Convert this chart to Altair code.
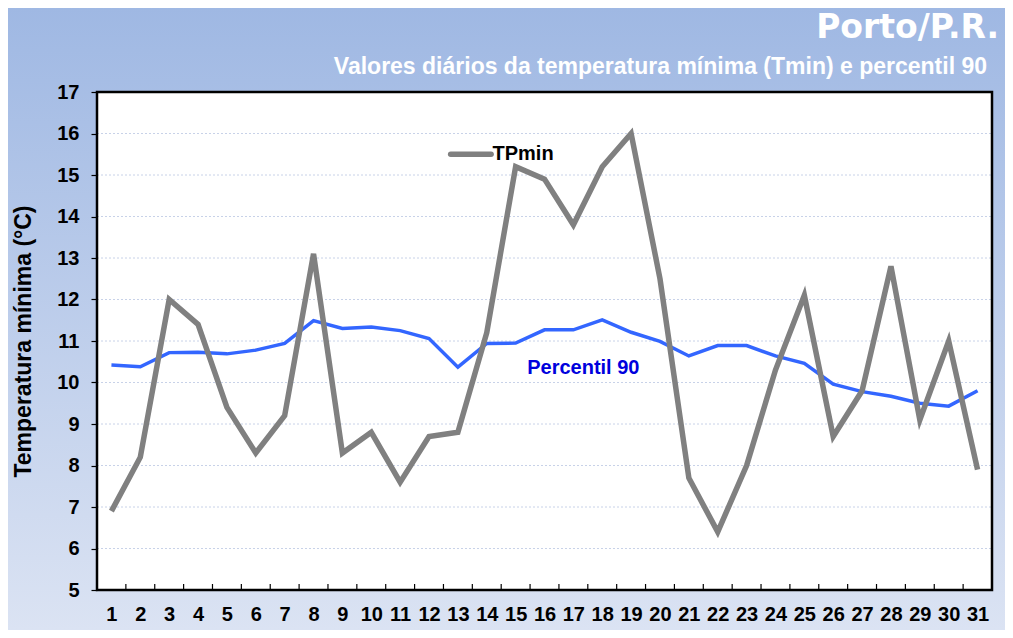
import altair as alt
import pandas as pd

days = list(range(1, 32))
tpmin = [6.9, 8.2, 12.0, 11.4, 9.4, 8.3, 9.2, 13.1, 8.3, 8.8, 7.6, 8.7, 8.8, 11.2, 15.2,
         14.9, 13.8, 15.2, 16.0, 12.5, 7.7, 6.4, 8.0, 10.3, 12.1, 8.7, 9.8, 12.8, 9.1, 11.0, 7.9]
p90 = [10.42, 10.38, 10.72, 10.73, 10.69, 10.78, 10.94, 11.49, 11.30, 11.34, 11.25, 11.06,
       10.37, 10.94, 10.95, 11.27, 11.27, 11.51, 11.21, 10.99, 10.64, 10.89, 10.89, 10.64,
       10.46, 9.96, 9.78, 9.67, 9.50, 9.43, 9.80]
y_ticks = list(range(5, 18))
title_text = "Porto/P.R."
subtitle_text = "Valores diários da temperatura mínima (Tmin) e percentil 90"
y_title = "Temperatura mínima (°C)"
series_tp = "TPmin"
series_p90 = "Percentil 90"

W, H = 895, 498
PAD = {"left": 89, "top": 84, "right": 13, "bottom": 40}
FONT = "Liberation Sans"

df = pd.DataFrame({"day": days, "tpmin": tpmin, "p90": p90})
grid_df = pd.DataFrame({"v": y_ticks[1:-1]})
bnd_df = pd.DataFrame({"b": [d + 0.5 for d in days[:-1]]})
one = pd.DataFrame({"a": [0]})

xs = alt.Scale(domain=[0.5, 31.5], nice=False, zero=False)
ys = alt.Scale(domain=[5, 17], nice=False, zero=False)

x_axis = alt.Axis(values=days, title=None, grid=False, ticks=False, domain=False,
                  labelFont=FONT, labelFontSize=20, labelFontWeight="bold",
                  labelColor="black", labelPadding=14, labelOverlap=False,
                  labelBound=False, labelFlush=False, zindex=1)
y_axis = alt.Axis(values=y_ticks, title=y_title, grid=False, domain=False,
                  tickColor="black", tickSize=6, tickWidth=1.2,
                  labelFont=FONT, labelFontSize=20, labelFontWeight="bold",
                  labelColor="black", labelPadding=12, labelOverlap=False,
                  labelBound=False, labelFlush=False,
                  titleFont=FONT, titleFontSize=23, titleFontWeight="bold",
                  titleColor="black", titlePadding=21, zindex=1)

bg = alt.Chart(one).mark_rect(
    color=alt.Gradient(
        gradient="linear", x1=0, x2=0, y1=0, y2=1,
        stops=[alt.GradientStop(color="#9fb8e3", offset=0),
               alt.GradientStop(color="#dbe3f3", offset=1)],
    )
).encode(
    x=alt.value(-PAD["left"]), x2=alt.value(W + PAD["right"]),
    y=alt.value(-PAD["top"]), y2=alt.value(H + PAD["bottom"]),
)

plotbg = alt.Chart(one).mark_rect(color="white").encode(
    x=alt.value(0), x2=alt.value(W), y=alt.value(0), y2=alt.value(H)
)

grid = alt.Chart(grid_df).mark_rule(color="#c8d2e8", strokeWidth=1, strokeDash=[2, 2]).encode(
    y=alt.Y("v:Q", scale=ys, axis=y_axis), x=alt.value(0), x2=alt.value(W)
)

inticks = alt.Chart(bnd_df).mark_rule(color="black", strokeWidth=1.2).encode(
    x=alt.X("b:Q", scale=xs, axis=x_axis), y=alt.value(H), y2=alt.value(H - 6)
)

line_p90 = alt.Chart(df).mark_line(color="#3366ff", strokeWidth=3.5).encode(
    x=alt.X("day:Q", scale=xs, axis=x_axis), y=alt.Y("p90:Q", scale=ys, axis=y_axis)
)

line_tp = alt.Chart(df).mark_line(color="#808080", strokeWidth=5.5).encode(
    x=alt.X("day:Q", scale=xs, axis=x_axis), y=alt.Y("tpmin:Q", scale=ys, axis=y_axis)
)

leg_line = alt.Chart(pd.DataFrame({"x1": [12.75], "x2": [14.15], "y": [15.5]})).mark_rule(
    color="#808080", strokeWidth=5.5, strokeCap="round"
).encode(x=alt.X("x1:Q", scale=xs, axis=x_axis), x2="x2:Q", y=alt.Y("y:Q", scale=ys, axis=y_axis))

leg_text = alt.Chart(pd.DataFrame({"x": [14.2], "y": [15.5], "t": [series_tp]})).mark_text(
    align="left", baseline="middle", font=FONT, fontSize=20, fontWeight="bold", color="black"
).encode(x=alt.X("x:Q", scale=xs, axis=x_axis), y=alt.Y("y:Q", scale=ys, axis=y_axis), text="t:N")

p90_text = alt.Chart(pd.DataFrame({"x": [15.4], "y": [10.35], "t": [series_p90]})).mark_text(
    align="left", baseline="middle", font=FONT, fontSize=20, fontWeight="bold", color="#0000dd"
).encode(x=alt.X("x:Q", scale=xs, axis=x_axis), y=alt.Y("y:Q", scale=ys, axis=y_axis), text="t:N")

border = alt.Chart(one).mark_rect(filled=False, stroke="black", strokeWidth=2.5).encode(
    x=alt.value(0), x2=alt.value(W), y=alt.value(0), y2=alt.value(H)
)

t1 = alt.Chart(pd.DataFrame({"t": [title_text]})).mark_text(
    align="right", baseline="alphabetic", font="DejaVu Sans", fontSize=33, fontWeight="bold", color="white"
).encode(x=alt.value(902), y=alt.value(-54), text="t:N")

t2 = alt.Chart(pd.DataFrame({"t": [subtitle_text]})).mark_text(
    align="right", baseline="alphabetic", font=FONT, fontSize=23, fontWeight="bold", color="white"
).encode(x=alt.value(890), y=alt.value(-18), text="t:N")

chart = alt.layer(
    bg, plotbg, grid, inticks, line_p90, line_tp, leg_line, leg_text, p90_text, border, t1, t2
).properties(
    width=W, height=H,
    autosize=alt.AutoSizeParams(type="none"),
    padding=PAD,
).configure_view(stroke=None).configure_axis(labelOverlap=False).configure(background="#dbe3f3")

chart.save("out.html", embed_options={"renderer": "svg", "actions": False})
